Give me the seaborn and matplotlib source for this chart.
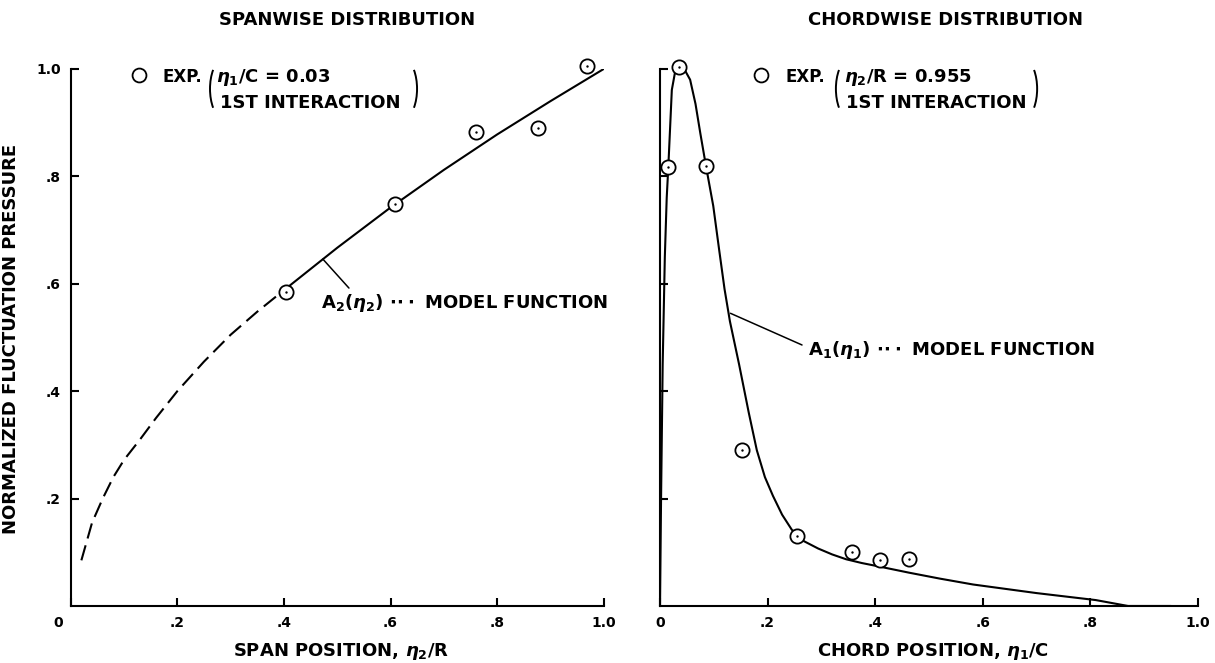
import matplotlib
matplotlib.use("Agg")
import matplotlib.pyplot as plt
import seaborn as sns
from matplotlib.patches import Arc
from matplotlib.transforms import ScaledTranslation

# ---------------- data ----------------
span_exp_x = [0.403, 0.608, 0.761, 0.876, 0.969]
span_exp_y = [0.585, 0.749, 0.883, 0.890, 1.006]

span_dash_x = [0.02, 0.04, 0.06, 0.08, 0.10, 0.13, 0.16, 0.20, 0.25, 0.30, 0.35, 0.40]
span_dash_y = [0.085, 0.155, 0.20, 0.24, 0.272, 0.31, 0.35, 0.40, 0.455, 0.505, 0.548, 0.588]

span_solid_x = [0.40, 0.50, 0.60, 0.70, 0.80, 0.90, 1.0]
span_solid_y = [0.588, 0.667, 0.742, 0.812, 0.878, 0.940, 1.0]

chord_exp_x = [0.0155, 0.035, 0.0855, 0.152, 0.255, 0.357, 0.409, 0.463]
chord_exp_y = [0.818, 1.004, 0.819, 0.290, 0.130, 0.100, 0.086, 0.088]

chord_model_x = [0.0, 0.002, 0.005, 0.009, 0.0125, 0.0155, 0.022, 0.028, 0.035,
                 0.045, 0.056, 0.066, 0.075, 0.0855, 0.099, 0.110, 0.120, 0.130,
                 0.147, 0.165, 0.180, 0.195, 0.210, 0.227, 0.245, 0.265, 0.294,
                 0.320, 0.346, 0.375, 0.400, 0.463, 0.520, 0.582, 0.700, 0.810,
                 0.870, 0.950]
chord_model_y = [0.0, 0.20, 0.45, 0.65, 0.76, 0.818, 0.961, 0.994, 1.004,
                 1.000, 0.980, 0.935, 0.880, 0.819, 0.745, 0.663, 0.590, 0.530,
                 0.450, 0.360, 0.290, 0.240, 0.205, 0.170, 0.142, 0.122, 0.107,
                 0.096, 0.087, 0.080, 0.075, 0.062, 0.051, 0.040, 0.024, 0.011,
                 0.0, 0.0]

x_ticks = [0.0, 0.2, 0.4, 0.6, 0.8, 1.0]
x_tick_labels = ["0", ".2", ".4", ".6", ".8", "1.0"]
y_ticks = [0.2, 0.4, 0.6, 0.8, 1.0]
y_tick_labels = [".2", ".4", ".6", ".8", "1.0"]

titles = ["SPANWISE DISTRIBUTION", "CHORDWISE DISTRIBUTION"]
xlabels = [r"SPAN POSITION, $\eta_2$/R", r"CHORD POSITION, $\eta_1$/C"]
ylabel = "NORMALIZED FLUCTUATION PRESSURE"
legend_line1 = [r"$\eta_1$/C = 0.03", r"$\eta_2$/R = 0.955"]
legend_line2 = "1ST INTERACTION"
model_labels = [r"A$_2$($\eta_2$) $\cdot\!\cdot\!\cdot$ MODEL FUNCTION",
                r"A$_1$($\eta_1$) $\cdot\!\cdot\!\cdot$ MODEL FUNCTION"]

# ---------------- style ----------------
sns.set_style("ticks")
plt.rcParams["font.family"] = ["DejaVu Sans"]
plt.rcParams["font.weight"] = "bold"
plt.rcParams["axes.labelweight"] = "bold"
plt.rcParams["mathtext.fontset"] = "custom"
plt.rcParams["mathtext.rm"] = "DejaVu Sans:bold"
plt.rcParams["mathtext.bf"] = "DejaVu Sans:bold"
plt.rcParams["mathtext.it"] = "DejaVu Sans:italic:bold"
for k in ("text.color", "axes.labelcolor", "xtick.color", "ytick.color", "axes.edgecolor"):
    plt.rcParams[k] = "black"

fig = plt.figure(figsize=(12.15, 6.63), dpi=100)
axL = fig.add_axes([0.0582, 0.086, 0.4387, 0.810])
axR = fig.add_axes([0.5432, 0.086, 0.4428, 0.810])

LW = 1.5
for ax in (axL, axR):
    ax.set_xlim(0, 1)
    ax.set_ylim(0, 1)
    for s in ("top", "right"):
        ax.spines[s].set_visible(False)
    for s in ("left", "bottom"):
        ax.spines[s].set_linewidth(LW)
        ax.spines[s].set_color("black")
    ax.tick_params(direction="in", length=6, width=LW, colors="black",
                   labelsize=10, pad=7)
    ax.set_xticks(x_ticks, x_tick_labels)

axL.set_yticks(y_ticks, y_tick_labels)
axR.set_yticks(y_ticks, [""] * len(y_ticks))

# ---------------- left panel ----------------
sns.lineplot(x=span_dash_x, y=span_dash_y, ax=axL, color="black", lw=LW,
             sort=False, estimator=None, linestyle=(0, (7.5, 3.4)))
sns.lineplot(x=span_solid_x, y=span_solid_y, ax=axL, color="black", lw=LW,
             sort=False, estimator=None)

# ---------------- right panel ----------------
sns.lineplot(x=chord_model_x, y=chord_model_y, ax=axR, color="black", lw=LW,
             sort=False, estimator=None)

for ax, ex, ey in ((axL, span_exp_x, span_exp_y), (axR, chord_exp_x, chord_exp_y)):
    sns.scatterplot(x=ex, y=ey, ax=ax, marker="o", s=105, color="white",
                    edgecolor="black", linewidth=1.3, clip_on=False, zorder=4)
    sns.scatterplot(x=ex, y=ey, ax=ax, marker="o", s=3, color="black",
                    linewidth=0, clip_on=False, zorder=5)

# ---------------- texts ----------------
FS = 13
axL.text(0.519, 1.091, titles[0], transform=axL.transAxes, ha="center",
         va="center", fontsize=FS)
axR.text(0.530, 1.091, titles[1], transform=axR.transAxes, ha="center",
         va="center", fontsize=FS)

axL.set_xlabel(xlabels[0], fontsize=FS, fontweight="bold")
axR.set_xlabel(xlabels[1], fontsize=FS, fontweight="bold")
axL.xaxis.set_label_coords(0.507, -0.066)
axR.xaxis.set_label_coords(0.507, -0.066)
axL.set_ylabel(ylabel, fontsize=13, fontweight="bold")
axL.yaxis.set_label_coords(-0.095, 0.497)

# shift the corner "0" of the left panel
lab0 = axL.get_xticklabels()[0]
lab0.set_transform(lab0.get_transform() + ScaledTranslation(-0.13, 0, fig.dpi_scale_trans))

# legend-like blocks
legend_geo = [
    # circle x, EXP x, line1 x, line2 x, left paren cx, right paren cx, px/unit x
    (axL, 0.128, 0.173, 0.273, 0.280, 0.2876, 0.6235, 533.0),
    (axR, 0.188, 0.234, 0.342, 0.345, 0.353, 0.675, 538.0),
]
for i, (ax, cx, ex_x, l1x, l2x, lpx, rpx, pxu) in enumerate(legend_geo):
    ax.plot([cx], [0.988], marker="o", ms=10, mfc="white", mec="black",
            mew=1.3, clip_on=False, ls="none")
    ax.text(ex_x, 0.976, "EXP.", fontsize=12, ha="left", va="baseline")
    ax.text(l1x, 0.976, legend_line1[i], fontsize=FS, ha="left", va="baseline")
    ax.text(l2x, 0.927, legend_line2, fontsize=FS, ha="left", va="baseline")
    w = 28.0 / pxu
    h = 60.0 / 537.0
    ax.add_patch(Arc((lpx, 0.963), w, h, theta1=120, theta2=240,
                     color="black", lw=1.4, clip_on=False))
    ax.add_patch(Arc((rpx, 0.963), w, h, theta1=-60, theta2=60,
                     color="black", lw=1.4, clip_on=False))

# model function labels with leader lines
axL.annotate("", xy=(0.473, 0.646), xytext=(0.522, 0.592),
             arrowprops=dict(arrowstyle="-", color="black", lw=1.1,
                             shrinkA=0, shrinkB=0))
axL.text(0.469, 0.555, model_labels[0], fontsize=FS, ha="left", va="baseline")

axR.annotate("", xy=(0.131, 0.545), xytext=(0.264, 0.486),
             arrowprops=dict(arrowstyle="-", color="black", lw=1.1,
                             shrinkA=0, shrinkB=0))
axR.text(0.275, 0.467, model_labels[1], fontsize=FS, ha="left", va="baseline")

fig.savefig("out.png", dpi=100)
